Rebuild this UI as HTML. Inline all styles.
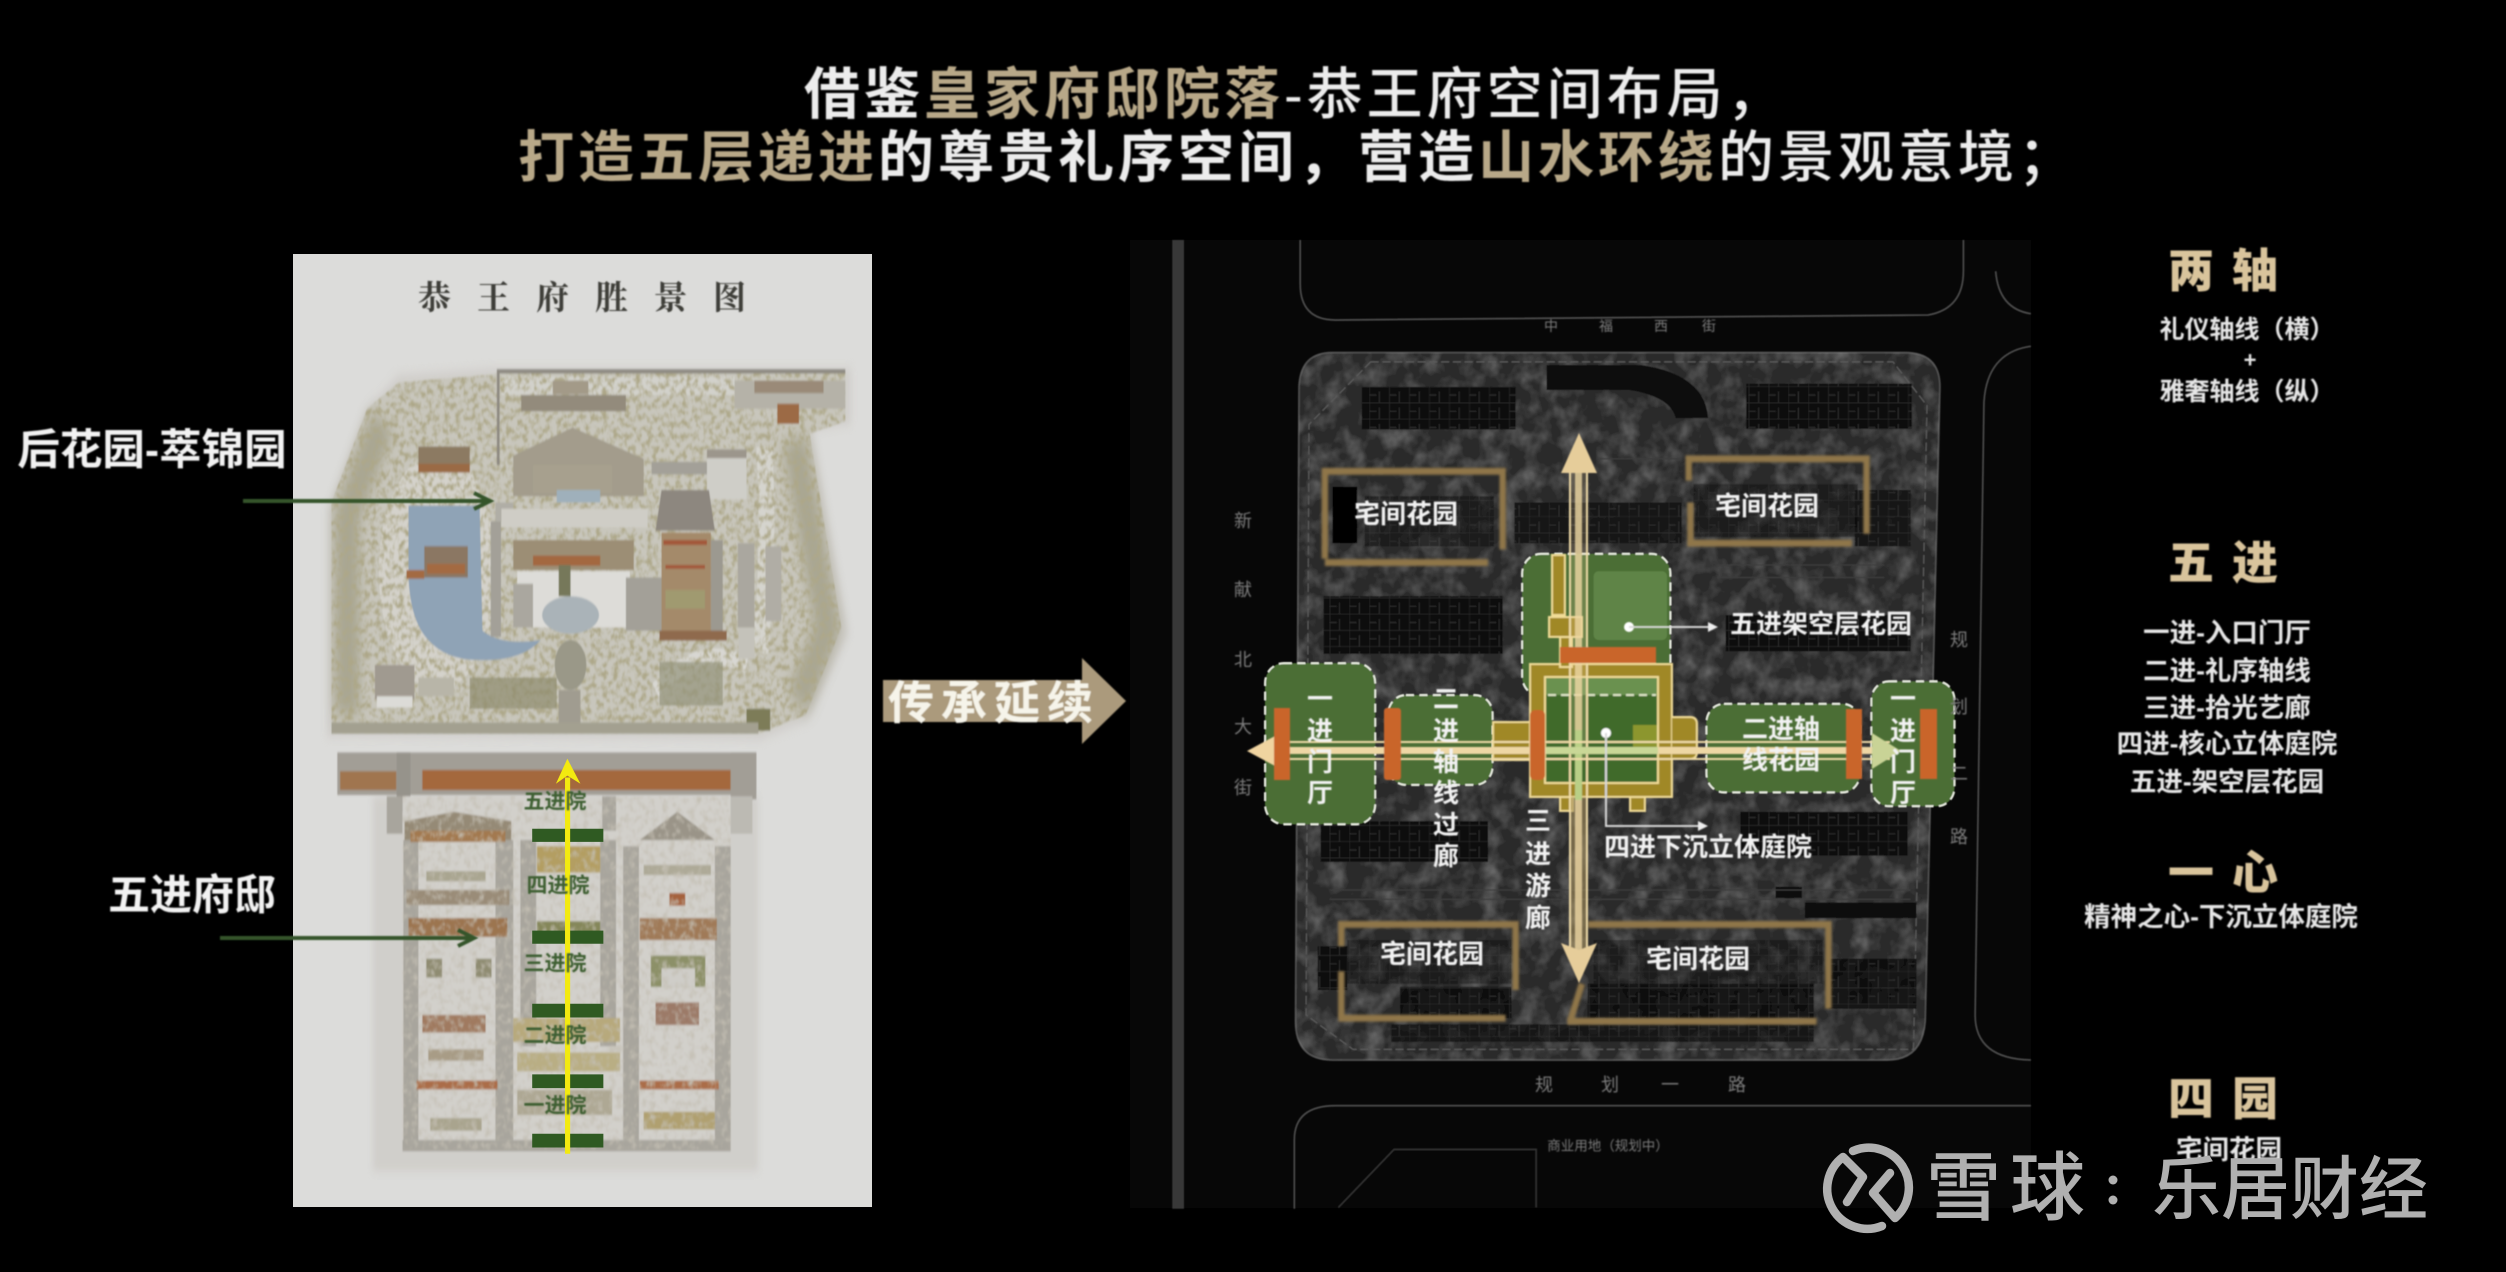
<!DOCTYPE html>
<html><head><meta charset="utf-8">
<style>
html,body{margin:0;padding:0;background:#000;width:2506px;height:1272px;overflow:hidden}
svg{display:block}
text{font-family:"Liberation Sans","Noto Sans CJK SC",sans-serif}
.w{fill:#f2f2f2;font-weight:700;text-anchor:middle;dominant-baseline:central}
.s{fill:#e6e6e6;font-weight:700;text-anchor:middle;font-size:26.5px;dominant-baseline:central}
.h{fill:#d9c49c;font-weight:900;text-anchor:middle;font-size:46px;letter-spacing:18px;dominant-baseline:central}
.r{fill:#7c7c7c;font-size:18px;text-anchor:middle;dominant-baseline:central}
.g{fill:#3e5f32;font-weight:700;font-size:21px;text-anchor:middle;dominant-baseline:central}
</style></head><body>
<svg xmlns="http://www.w3.org/2000/svg" width="2506" height="1272" viewBox="0 0 2506 1272">
<defs>
<filter id="b1" x="-5%" y="-5%" width="110%" height="110%"><feGaussianBlur stdDeviation="0.9"/></filter>
<filter id="b2" x="-5%" y="-5%" width="110%" height="110%"><feGaussianBlur stdDeviation="1.6"/></filter>
<filter id="b3" x="-5%" y="-5%" width="110%" height="110%"><feGaussianBlur stdDeviation="2.2"/></filter>
<filter id="b6" x="-10%" y="-10%" width="120%" height="120%"><feGaussianBlur stdDeviation="7"/></filter>
<filter id="b12" x="-10%" y="-10%" width="120%" height="120%"><feGaussianBlur stdDeviation="14"/></filter>
<filter id="tex" x="0" y="0" width="100%" height="100%"><feTurbulence type="fractalNoise" baseFrequency=".07 .1" numOctaves="3" seed="5"/><feColorMatrix values="0 0 0 0 .42  0 0 0 0 .39  0 0 0 0 .25  3.2 0 0 0 -1.35"/><feComposite in2="SourceAlpha" operator="in"/></filter>
<filter id="tex3" x="0" y="0" width="100%" height="100%"><feTurbulence type="fractalNoise" baseFrequency=".06 .09" numOctaves="3" seed="17"/><feColorMatrix values="0 0 0 0 .55  0 0 0 0 .52  0 0 0 0 .45  2.2 0 0 0 -1"/><feComposite in2="SourceAlpha" operator="in"/></filter>
<filter id="tex2" x="0" y="0" width="100%" height="100%"><feTurbulence type="fractalNoise" baseFrequency=".03" numOctaves="3" seed="9"/><feColorMatrix values="0 0 0 0 .3  0 0 0 0 .3  0 0 0 0 .3  1.1 0 0 0 -.45"/><feComposite in2="SourceAlpha" operator="in"/></filter>
<pattern id="bp" patternUnits="userSpaceOnUse" width="34" height="26"><rect width="34" height="26" fill="#0e0e0e"/><path d="M0,0 H34 M0,0 V26 M17,8 V26 M0,14 H12" stroke="#2f2f2f" stroke-width="1.8" fill="none"/></pattern>
</defs>
<rect width="2506" height="1272" fill="#000"/>

<!-- title -->
<g filter="url(#b1)" font-size="56" font-weight="700">
<text x="804" y="114" letter-spacing="4" fill="#ececec">借鉴<tspan fill="#b8a888">皇家府邸院落</tspan><tspan font-weight="500">-恭王府空间布局，</tspan></text>
<text x="518" y="177" letter-spacing="4" fill="#ececec"><tspan fill="#b8a888">打造五层递进</tspan>的尊贵礼序空间，营造<tspan fill="#b8a888">山水环绕</tspan><tspan font-weight="500">的景观意境；</tspan></text>
</g>

<!-- paper -->
<rect x="293" y="254" width="579" height="953" fill="#dcdcda"/>
<text x="418" y="309" font-size="33" font-weight="700" letter-spacing="26" fill="#3c3c38" filter="url(#b1)" style="font-family:'Liberation Serif','Noto Serif CJK SC',serif">恭王府胜景图</text>

<!-- palace drawing : coordinates in a stretched space -->
<g transform="translate(280,240) scale(.3953,.625)">
<g filter="url(#b2)">
<polygon points="118,795 118,430 215,270 300,215 540,205 1445,205 1445,295 1350,305 1440,630 1335,770 1215,800" fill="#d0cfcb" filter="url(#b6)"/>
<rect x="235" y="890" width="975" height="600" fill="#d0cfcb" filter="url(#b6)"/>
<polygon points="130,790 130,420 220,270 300,228 540,215 555,210 1430,210 1430,290 1340,310 1420,620 1330,760 1210,790" fill="#c8c6bc"/>
<!-- tree ring -->
<path d="M170,760 V440 L260,290 M1300,320 L1385,620 L1310,740" stroke="#8a8668" stroke-width="62" fill="none" opacity=".5" filter="url(#b12)"/>
<!-- light paths -->
<ellipse cx="400" cy="530" rx="150" ry="190" fill="#d8d7d2" opacity=".7"/>
<path d="M1225,330 Q1240,500 1215,660" stroke="#d8d7d2" stroke-width="40" fill="none" opacity=".8"/>
<path d="M950,720 Q1060,640 1180,680" stroke="#d8d7d2" stroke-width="26" fill="none"/>
<rect x="560" y="218" width="590" height="30" fill="#d2d1cb"/>
<path d="M330,300 H520 V330" stroke="#c8c6bc" stroke-width="26" fill="none"/>
<!-- tree texture -->
<polygon points="130,790 130,420 220,270 300,228 540,215 555,210 1430,210 1430,290 1340,310 1420,620 1330,760 1210,790" fill="#000" filter="url(#tex)"/>
<!-- lake -->
<path d="M325,425 H505 L512,625 Q560,650 660,640 Q610,675 500,672 Q420,672 375,640 Q330,610 325,540Z" fill="#8fa3b6"/>
<rect x="365" y="490" width="110" height="50" fill="#8b7763"/><rect x="372" y="518" width="96" height="16" fill="#a36a42"/><rect x="320" y="528" width="45" height="14" fill="#a36a42"/>
<!-- walls -->
<path d="M552,360 V210 H1430" stroke="#8f8b83" stroke-width="7" fill="none"/>
<rect x="533" y="450" width="26" height="185" fill="#a3a098"/>
<rect x="545" y="420" width="45" height="30" fill="#b0aea6"/>
<!-- central -->
<rect x="610" y="248" width="265" height="26" fill="#938b7b"/>
<rect x="690" y="225" width="90" height="22" fill="#a39a88"/>
<rect x="1150" y="225" width="280" height="45" fill="#b5b2a8"/><rect x="1200" y="225" width="175" height="20" fill="#9a8a78"/><rect x="1258" y="262" width="55" height="32" fill="#9c6a44"/>
<polygon points="590,345 740,300 920,350 920,410 590,410" fill="#a39c8c"/>
<rect x="640" y="360" width="200" height="45" fill="#a7a08e"/>
<rect x="700" y="400" width="110" height="20" fill="#9fb0bb"/>
<rect x="560" y="430" width="370" height="30" fill="#cfcdc6"/>
<rect x="590" y="480" width="305" height="48" fill="#9c8e74"/><rect x="640" y="505" width="170" height="16" fill="#a3673f"/>
<rect x="600" y="530" width="285" height="90" fill="#dddcd8"/>
<ellipse cx="735" cy="600" rx="72" ry="30" fill="#aab3b8"/>
<rect x="705" y="520" width="30" height="50" fill="#76785a"/>
<rect x="875" y="540" width="90" height="85" fill="#a3a098"/>
<rect x="590" y="550" width="50" height="70" fill="#aaa79f"/>
<circle cx="735" cy="680" r="40" fill="#9a9888"/>
<!-- right complex -->
<rect x="940" y="355" width="240" height="20" fill="#a3a098"/>
<rect x="1080" y="335" width="100" height="80" fill="#cfcec8"/><rect x="1080" y="335" width="100" height="14" fill="#9c968c"/>
<polygon points="950,465 965,400 1085,400 1100,465" fill="#8d877f"/>
<rect x="965" y="468" width="125" height="165" fill="#a48a6a"/><rect x="970" y="480" width="110" height="8" fill="#a3593a"/><rect x="975" y="520" width="100" height="6" fill="#a3593a"/><rect x="975" y="560" width="100" height="30" fill="#a09a70"/>
<rect x="1090" y="480" width="30" height="150" fill="#9c9990"/>
<rect x="1158" y="485" width="42" height="135" fill="#aaa79f"/>
<rect x="1228" y="490" width="40" height="120" fill="#b0ada5"/>
<rect x="960" y="625" width="170" height="16" fill="#8f6a4e"/>
<rect x="1160" y="620" width="40" height="50" fill="#c4c2ba"/>
<!-- bottom-of-garden -->
<rect x="240" y="680" width="100" height="55" fill="#a09a90"/><rect x="245" y="730" width="90" height="18" fill="#dcdbd7"/>
<rect x="350" y="700" width="90" height="30" fill="#b8b5a8"/>
<rect x="960" y="675" width="160" height="70" fill="#94947c" opacity=".7"/>
<rect x="480" y="700" width="220" height="50" fill="#8f8c6e" opacity=".7"/>
<rect x="705" y="720" width="55" height="60" fill="#a09c90"/>
<rect x="1180" y="750" width="60" height="35" fill="#7d7c58"/>
<rect x="130" y="772" width="1080" height="18" fill="#a3a090"/>
<rect x="350" y="330" width="130" height="40" fill="#8c7a62"/><rect x="350" y="358" width="130" height="14" fill="#9a6a45"/>

<!-- band -->
<rect x="145" y="820" width="1060" height="68" fill="#a29e96"/>
<rect x="360" y="848" width="780" height="32" fill="#a4683e"/>
<rect x="152" y="850" width="142" height="30" fill="#a07450"/>
<rect x="295" y="820" width="35" height="95" fill="#96938b"/>
<rect x="1140" y="820" width="65" height="75" fill="#a29e96"/>
<rect x="270" y="890" width="40" height="60" fill="#a8a59d"/>
<rect x="1125" y="890" width="70" height="60" fill="#bcbab3"/>
<!-- compound -->
<rect x="310" y="890" width="830" height="565" fill="#d2d0cb"/>
<g fill="#a8a59d">
<rect x="312" y="960" width="38" height="480"/><rect x="545" y="960" width="45" height="480"/>
<rect x="608" y="960" width="40" height="330"/><rect x="810" y="960" width="40" height="330"/>
<rect x="868" y="970" width="40" height="470"/><rect x="1100" y="970" width="40" height="470"/>
<rect x="310" y="1440" width="830" height="18"/>
<rect x="815" y="890" width="35" height="55"/>
</g>
<polygon points="315,960 315,930 440,915 585,930 585,960" fill="#958a76"/><rect x="330" y="945" width="240" height="18" fill="#a3794f"/>
<rect x="320" y="1040" width="260" height="24" fill="#9a8c78"/>
<rect x="325" y="1085" width="250" height="30" fill="#9c7450"/>
<rect x="360" y="1240" width="160" height="28" fill="#a07a60"/>
<rect x="345" y="1345" width="205" height="14" fill="#ab6d48"/>
<rect x="370" y="1010" width="150" height="16" fill="#a9a590"/>
<rect x="370" y="1150" width="40" height="30" fill="#8f8c72"/><rect x="495" y="1150" width="40" height="30" fill="#8f8c72"/>
<rect x="375" y="1295" width="140" height="18" fill="#a89c86"/>
<rect x="380" y="1405" width="130" height="20" fill="#a9a48e"/>
<rect x="650" y="970" width="160" height="42" fill="#b39e62"/>
<rect x="650" y="1090" width="160" height="32" fill="#85875a"/>
<rect x="590" y="1245" width="270" height="38" fill="#b7a97c"/>
<rect x="600" y="1300" width="260" height="30" fill="#b9ae84"/>
<rect x="600" y="1360" width="240" height="40" fill="#aea894"/>
<polygon points="910,960 1005,915 1100,960" fill="#9a9488"/>
<rect x="920" y="1000" width="170" height="16" fill="#aeaa98"/>
<rect x="985" y="1045" width="40" height="20" fill="#a5623e"/>
<rect x="910" y="1085" width="195" height="35" fill="#a07a58"/>
<rect x="938" y="1145" width="138" height="50" fill="#8c9068"/><rect x="965" y="1165" width="85" height="30" fill="#cfcdc8"/>
<rect x="950" y="1220" width="110" height="36" fill="#9c7a68"/>
<rect x="910" y="1345" width="200" height="14" fill="#ab6d48"/>
<rect x="920" y="1395" width="180" height="28" fill="#b0a070"/>
<rect x="310" y="890" width="830" height="565" fill="#000" filter="url(#tex3)"/>
</g>
<!-- axis overlay -->
<g fill="#2f5a22">
<rect x="638" y="942" width="180" height="21"/><rect x="638" y="1105" width="180" height="21"/><rect x="638" y="1222" width="180" height="22"/><rect x="638" y="1335" width="180" height="22"/><rect x="638" y="1430" width="180" height="22"/>
</g>
<rect x="721" y="860" width="13" height="602" fill="#f3ea10"/>
<polygon points="727,830 760,870 727,857 698,870" fill="#f3ea10"/>
</g>
<g filter="url(#b1)">
<text class="g" x="555" y="802">五进院</text>
<text class="g" x="558" y="886">四进院</text>
<text class="g" x="555" y="964">三进院</text>
<text class="g" x="555" y="1036">二进院</text>
<text class="g" x="555" y="1106">一进院</text>
<!-- arrows -->
<path d="M243,501 H490 M474,493 L490,501 L474,509" stroke="#34542b" stroke-width="4" fill="none"/>
<path d="M220,938 H474 M458,930 L474,938 L458,946" stroke="#34542b" stroke-width="4" fill="none"/>
<text class="w" x="152" y="451" font-size="42.5">后花园-萃锦园</text>
<text class="w" x="192" y="895" font-size="42">五进府邸</text>
</g>

<!-- big arrow -->
<g filter="url(#b1)">
<polygon points="883,680 1082,680 1082,658 1126,701 1082,744 1082,722 883,722" fill="#ab9a7c"/>
<text x="888" y="719" font-size="46" font-weight="700" letter-spacing="7" fill="#f6f4ea">传承延续</text>
</g>

<!-- site plan -->
<rect x="1130" y="240" width="901" height="968" fill="#070707"/>
<g transform="translate(1130,240) scale(.5869,.625)">
<g filter="url(#b1)">
<rect x="72" y="0" width="20" height="1550" fill="#383838"/>
<g stroke="#484848" stroke-width="3" fill="none">
<path d="M290,0 V70 Q290,128 350,128 L1360,120 Q1420,110 1420,50 V0"/>
<path d="M1475,50 Q1480,110 1535,118"/>
<path d="M1535,170 Q1460,180 1455,260 L1440,1240 Q1440,1310 1535,1312"/>
<path d="M280,1550 V1440 Q280,1385 350,1385 H1535"/>
<path d="M355,1548 L450,1455 H692 V1548" stroke="#333"/>
</g>
<path d="M345,180 H1320 Q1380,180 1380,235 L1355,1250 Q1350,1312 1290,1312 H345 Q282,1312 282,1250 L288,235 Q290,180 345,180Z" fill="#2a2a2a" stroke="#4e4e4e" stroke-width="3"/>
<path d="M345,180 H1320 Q1380,180 1380,235 L1355,1250 Q1350,1312 1290,1312 H345 Q282,1312 282,1250 L288,235 Q290,180 345,180Z" fill="#000" filter="url(#tex2)"/>
<path d="M410,195 H1300 L1358,265 L1335,1295 H380 L300,1240 L305,295Z" fill="none" stroke="#5c5c5c" stroke-width="2" stroke-dasharray="14 6"/>
<!-- buildings -->
<g fill="url(#bp)">
<rect x="395" y="235" width="262" height="68"/>
<rect x="1050" y="230" width="282" height="72"/>
<path d="M710,200 H870 Q980,215 985,285 H930 Q920,250 850,240 H710Z" fill="#101010"/>
<rect x="345" y="395" width="42" height="90" fill="#050505"/>
<rect x="400" y="410" width="220" height="80" opacity=".55"/>
<rect x="655" y="420" width="285" height="65" opacity=".8"/>
<rect x="960" y="390" width="280" height="85" opacity=".45"/>
<rect x="1235" y="400" width="95" height="90" opacity=".8"/>
<rect x="330" y="570" width="305" height="92"/>
<rect x="1015" y="600" width="315" height="58"/>
<rect x="325" y="930" width="285" height="65"/>
<rect x="1040" y="915" width="285" height="70"/>
<rect x="320" y="1130" width="50" height="70"/>
<rect x="370" y="1120" width="280" height="70" opacity=".4"/>
<rect x="460" y="1195" width="190" height="50" opacity=".9"/>
<rect x="790" y="1120" width="390" height="70" opacity=".4"/>
<rect x="780" y="1190" width="385" height="55" opacity=".9"/>
<rect x="1190" y="1150" width="150" height="80" opacity=".9"/>
<rect x="1150" y="1060" width="190" height="25" fill="#0a0a0a"/>
<rect x="1100" y="1035" width="45" height="18" fill="#0a0a0a"/>
<rect x="445" y="1255" width="720" height="28" opacity=".7"/>
</g>
<g stroke="#3d3d3d" stroke-width="2" fill="none">
<path d="M340,1040 H1330 M340,1055 H1330 M800,350 H940 M1000,520 H1285 M1000,540 H1285"/>
</g>
</g>
<!-- gold frames -->
<g stroke="#8f7648" stroke-width="11" fill="none" filter="url(#b3)">
<path d="M332,510 V370 H635 V495"/><path d="M332,516 H610"/>
<path d="M952,385 V350 H1255 V470"/><path d="M955,420 V485 H1230"/>
<path d="M360,1130 V1095 H657 V1200"/><path d="M355,1245 H640 M360,1170 V1245"/>
<path d="M780,1095 H1190 V1230"/><path d="M745,1250 H1170 M750,1250 L770,1190"/>
</g>
<g filter="url(#b1)">
<!-- green patches -->
<g fill="#4c6e36" stroke="#e4e8dc" stroke-width="3.5" stroke-dasharray="14 9">
<rect x="230" y="677" width="188" height="258" rx="32"/>
<rect x="440" y="728" width="178" height="144" rx="30"/>
<rect x="668" y="502" width="253" height="228" rx="32"/>
<rect x="982" y="742" width="262" height="142" rx="30"/>
<rect x="1263" y="706" width="142" height="200" rx="30"/>
</g>
<rect x="790" y="530" width="125" height="110" fill="#5f8446" rx="8"/>
</g>
</g>
<!-- centre in real coordinates -->
<g filter="url(#b1)">
<rect x="1530" y="664" width="142" height="133" fill="#a08826"/>
<rect x="1546" y="677" width="112" height="106" fill="#3f6a2c"/>
<rect x="1546" y="677" width="112" height="18" fill="#6b9150"/>
<path d="M1548,695 H1656" stroke="#dfe6c8" stroke-width="2" stroke-dasharray="8 5"/>
<rect x="1633" y="725" width="25" height="25" fill="#8c962f"/>
<g fill="none" stroke="#f1dc96" stroke-width="2">
<rect x="1530" y="664" width="142" height="133"/>
<rect x="1545" y="677" width="113" height="106"/>
<rect x="1493" y="722" width="37" height="38" fill="#a08826"/>
<path d="M1672,717 H1690 Q1697,717 1697,724 V752 Q1697,759 1690,759 H1672" fill="#a08826"/>
<rect x="1560" y="797" width="13" height="14" fill="#a08826"/>
<rect x="1630" y="797" width="15" height="14" fill="#a08826"/>
<rect x="1552" y="555" width="13" height="60" fill="#a08826"/>
<rect x="1549" y="617" width="33" height="20" fill="#a08826"/>
<rect x="1560" y="637" width="12" height="30" fill="#a08826"/>
</g>
<!-- vertical axis -->
<rect x="1570" y="470" width="17" height="290" fill="#e9cf9a" fill-opacity=".22"/>
<rect x="1570" y="797" width="17" height="163" fill="#a8925e" fill-opacity=".6"/>
<path d="M1570,470 V950 M1587,470 V950" stroke="#f0dca8" stroke-width="2"/>
<rect x="1575" y="470" width="7" height="480" fill="#eed7a4" opacity=".8"/>
<rect x="1575" y="730" width="7" height="70" fill="#b9cf86"/>
<polygon points="1579,433 1597,473 1561,473" fill="#e6cd9a"/>
<polygon points="1579,983 1597,943 1579,950 1561,943" fill="#e6cd9a"/>
<!-- horizontal axis -->
<path d="M1275,742 H1890 M1275,759 H1890" stroke="#f0dca8" stroke-width="2"/>
<rect x="1275" y="747" width="615" height="7" fill="#eed7a4"/>
<rect x="1546" y="747" width="112" height="7" fill="#c9d796"/>
<polygon points="1247,751 1275,736 1275,766" fill="#f0d4a0"/>
<polygon points="1901,751 1872,733 1872,769" fill="#c9d396"/>
<!-- orange -->
<g fill="#c9652a">
<rect x="1274" y="708" width="16" height="72"/>
<rect x="1384" y="708" width="17" height="72" rx="3"/>
<rect x="1530" y="710" width="15" height="70" rx="5"/>
<rect x="1560" y="647" width="96" height="16"/>
<rect x="1846" y="709" width="16" height="70"/>
<rect x="1920" y="709" width="17" height="70"/>
</g>
<!-- pointers -->
<circle cx="1629" cy="627" r="5" fill="#fff"/><path d="M1629,627 H1708" stroke="#d8d8d8" stroke-width="2"/><polygon points="1718,627 1708,622 1708,632" fill="#eee"/>
<circle cx="1606" cy="733" r="5" fill="#fff"/><path d="M1606,733 V826 H1700" stroke="#d8d8d8" stroke-width="2" fill="none"/><polygon points="1708,826 1698,821 1698,831" fill="#eee"/>
<!-- labels on plan -->
<g font-size="26">
<text class="w" x="1406" y="514">宅间花园</text>
<text class="w" x="1767" y="506">宅间花园</text>
<text class="w" x="1432" y="954">宅间花园</text>
<text class="w" x="1698" y="959">宅间花园</text>
<text class="w" x="1821" y="624">五进架空层花园</text>
<text class="w" x="1708" y="847">四进下沉立体庭院</text>
<text class="w" x="1320" y="699">一</text><text class="w" x="1320" y="731">进</text><text class="w" x="1320" y="762">门</text><text class="w" x="1320" y="793">厅</text>
<text class="w" x="1446" y="699">二</text><text class="w" x="1446" y="731">进</text><text class="w" x="1446" y="762">轴</text><text class="w" x="1446" y="793">线</text><text class="w" x="1446" y="825">过</text><text class="w" x="1446" y="856">廊</text>
<text class="w" x="1538" y="821">三</text><text class="w" x="1538" y="854">进</text><text class="w" x="1538" y="886">游</text><text class="w" x="1538" y="918">廊</text>
<text class="w" x="1781" y="729">二进轴</text><text class="w" x="1781" y="760">线花园</text>
<text class="w" x="1903" y="699">一</text><text class="w" x="1903" y="731">进</text><text class="w" x="1903" y="762">门</text><text class="w" x="1903" y="793">厅</text>
</g>
<g>
<text class="r" x="1551" y="326" style="font-size:14px">中</text><text class="r" x="1606" y="326" style="font-size:14px">福</text><text class="r" x="1661" y="326" style="font-size:14px">西</text><text class="r" x="1709" y="326" style="font-size:14px">街</text>
<text class="r" x="1243" y="521">新</text><text class="r" x="1243" y="590">献</text><text class="r" x="1243" y="660">北</text><text class="r" x="1243" y="727">大</text><text class="r" x="1243" y="788">街</text>
<text class="r" x="1959" y="640">规</text><text class="r" x="1959" y="707">划</text><text class="r" x="1959" y="774">二</text><text class="r" x="1959" y="837">路</text>
<text class="r" x="1544" y="1085">规</text><text class="r" x="1610" y="1085">划</text><text class="r" x="1670" y="1085">一</text><text class="r" x="1737" y="1085">路</text>
<text class="r" x="1608" y="1146" style="font-size:13.5px">商业用地（规划中）</text>
</g>
</g>

<!-- right column -->
<g filter="url(#b1)">
<text class="h" x="2232" y="271">两轴</text>
<text class="s" x="2247" y="330" style="font-size:25px">礼仪轴线（横）</text>
<text class="s" x="2250" y="360" style="font-size:22px">+</text>
<text class="s" x="2247" y="392" style="font-size:25px">雅奢轴线（纵）</text>
<text class="h" x="2232" y="563">五进</text>
<text class="s" x="2227" y="633">一进-入口门厅</text>
<text class="s" x="2227" y="671">二进-礼序轴线</text>
<text class="s" x="2227" y="708">三进-拾光艺廊</text>
<text class="s" x="2227" y="744">四进-核心立体庭院</text>
<text class="s" x="2227" y="782">五进-架空层花园</text>
<text class="h" x="2232" y="873">一心</text>
<text class="s" x="2221" y="917">精神之心-下沉立体庭院</text>
<text class="h" x="2232" y="1099">四园</text>
<text class="s" x="2229" y="1150">宅间花园</text>
</g>

<!-- watermark -->
<g fill="none" stroke="#b0b0b0" stroke-width="8.5" stroke-linecap="round" stroke-linejoin="round">
<path d="M1890,1173 L1873,1193 L1895,1218 A40,40 0 0 0 1853,1151"/>
<path d="M1847,1202 L1863,1177 L1843,1157 A40,40 0 0 0 1882,1226"/>
</g>
<text x="1926" y="1214" font-size="75" fill="#b0b0b0" font-weight="500" letter-spacing="9">雪球</text>
<circle cx="2113" cy="1180" r="4.5" fill="#b0b0b0"/><circle cx="2113" cy="1200" r="4.5" fill="#b0b0b0"/>
<text x="2152" y="1213" font-size="69" fill="#b0b0b0" font-weight="500">乐居财经</text>
</svg>
</body></html>
